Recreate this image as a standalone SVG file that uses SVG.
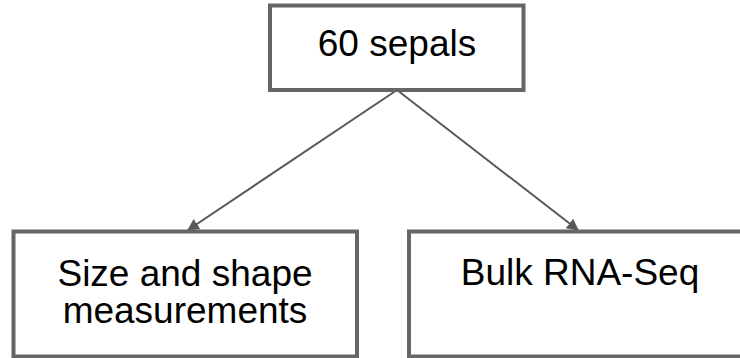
<svg xmlns="http://www.w3.org/2000/svg" width="740" height="358" viewBox="0 0 740 358">
<style>
.box{fill:#ffffff;stroke:#666666;stroke-width:4}
.lbl{font-family:"Liberation Sans",Arial,sans-serif;font-size:37px;fill:#000000;text-anchor:middle}
.edge{stroke:#595959;stroke-width:2;fill:none}
</style>
<defs>
<marker id="arr" viewBox="0 0 10 10" refX="9" refY="5" markerWidth="6" markerHeight="6" markerUnits="strokeWidth" orient="auto">
<path d="M0,0 L10,5 L0,10 z" fill="#595959"/>
</marker>
</defs>
<rect width="740" height="358" fill="#ffffff"/>
<g id="connectors">
<line class="edge" x1="397" y1="90" x2="188" y2="230" marker-end="url(#arr)"/>
<line class="edge" x1="397" y1="90" x2="578" y2="230" marker-end="url(#arr)"/>
</g>
<g id="n-sepals">
<rect class="box" x="270" y="5.5" width="253.5" height="84.5"/>
<text class="lbl" x="397" y="56">60 sepals</text>
</g>
<g id="n-size">
<rect class="box" x="13.5" y="231.5" width="343.5" height="125"/>
<text class="lbl" x="185" y="286">Size and shape</text>
<text class="lbl" x="185" y="323">measurements</text>
</g>
<g id="n-rna">
<rect class="box" x="409" y="231.5" width="345" height="125"/>
<text class="lbl" x="580" y="285">Bulk RNA-Seq</text>
</g>
</svg>
